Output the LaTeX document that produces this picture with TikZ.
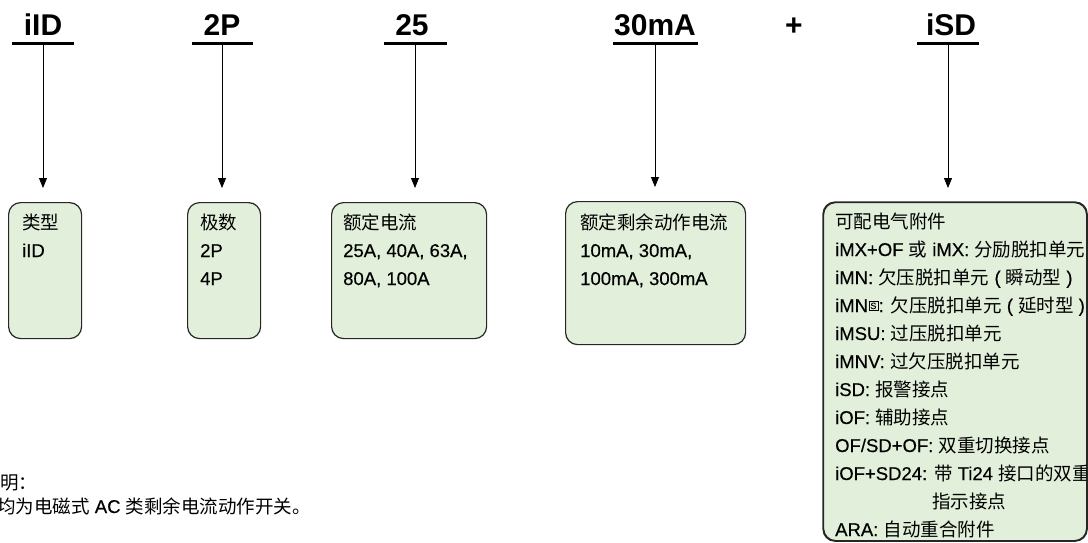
\documentclass[tikz,border=0pt]{standalone}
\usepackage{fontspec}
\setmainfont{Liberation Sans}[FakeBold=0.4]
\newfontfamily\titlef{Liberation Sans}
\newfontfamily\cjkf{Noto Sans CJK SC}
\newcommand{\zhs}[1]{{\cjkf #1}}
\newcommand{\sqS}{\kern0.5pt\raisebox{3pt}{\fboxsep=1.2pt\fboxrule=0.6pt\fbox{\fontsize{9}{9}\selectfont\vphantom{I}S}}\kern0.5pt}
\usetikzlibrary{arrows.meta}
\definecolor{boxfill}{HTML}{E2EFDA}
\begin{document}
\begin{tikzpicture}[x=1pt,y=-1pt,
  ttl/.style={font=\titlef\fontsize{30}{30}\selectfont\bfseries, anchor=base, inner sep=0pt},
  uline/.style={fill=black, inner sep=0pt, minimum height=3pt},
  arr/.style={-{Triangle[length=10pt,width=8pt]}, line width=0.8pt, shorten >=14pt},
  box/.style={draw=black!85, line width=1.2pt, fill=boxfill, rounded corners=12pt, anchor=north west, inner sep=0pt},
  txt/.style={font=\fontsize{18.5}{20}\selectfont, anchor=base west, inner sep=0pt}]
\useasboundingbox (0,0) rectangle (1088,542);

% titles
\node[ttl] (t1) at (43,35) {iID};
\node[ttl] (t2) at (222,35) {2P};
\node[ttl] (t3) at (412,35) {25};
\node[ttl] (t4) at (655,35) {30mA};
\node[ttl] (tp) at (794,35) {+};
\node[ttl] (t5) at (951,35) {iSD};

% underlines
\node[uline, minimum width=62pt] (u1) at (43,43) {};
\node[uline, minimum width=61pt] (u2) at (222,43) {};
\node[uline, minimum width=63pt] (u3) at (415,43) {};
\node[uline, minimum width=85pt] (u4) at (655,43) {};
\node[uline, minimum width=62pt] (u5) at (948,43) {};

% boxes
\node[box, minimum width=73pt, minimum height=136pt] (b1) at (8,202) {};
\node[box, minimum width=73pt, minimum height=136pt] (b2) at (187,202) {};
\node[box, minimum width=155pt, minimum height=136pt] (b3) at (331,202) {};
\node[box, minimum width=180pt, minimum height=143pt] (b4) at (565,201) {};
\node[box, minimum width=263pt, minimum height=338pt] (b5) at (823,202) {};

% arrows
\draw[arr] (u1.south) -- (u1.south |- b1.north);
\draw[arr] (u2.south) -- (u2.south |- b2.north);
\draw[arr] (u3.south) -- (u3.south |- b3.north);
\draw[arr] (u4.south) -- (u4.south |- b4.north);
\draw[arr] (u5.south) -- (u5.south |- b5.north);

% box 1
\node[txt] (b1a) at (22,229) {\zhs{类型}};
\node[txt] (b1b) at (22,257) {iID};
% box 2
\node[txt] (b2a) at (200,229) {\zhs{极数}};
\node[txt] (b2b) at (200,257) {2P};
\node[txt] (b2c) at (200,285) {4P};
% box 3
\node[txt] (b3a) at (343,229) {\zhs{额定电流}};
\node[txt] (b3b) at (343,257) {25A, 40A, 63A,};
\node[txt] (b3c) at (343,285) {80A, 100A};
% box 4
\node[txt] (b4a) at (580,229) {\zhs{额定剩余动作电流}};
\node[txt] (b4b) at (580,257) {10mA, 30mA,};
\node[txt] (b4c) at (580,285) {100mA, 300mA};

% box 5
\begin{scope}
\clip[rounded corners=12pt] (b5.north west) rectangle (b5.south east);
\node[txt] (c1) at (835,228) {\zhs{可配电气附件}};
\node[txt] (c2) at (835,256) {iMX+OF \zhs{或} iMX: \zhs{分励脱扣单元}};
\node[txt] (c3) at (835,284) {iMN: \zhs{欠压脱扣单元} ( \zhs{瞬动型} )};
\node[txt] (c4) at (835,312) {iMN\sqS: \zhs{欠压脱扣单元} ( \zhs{延时型} )};
\node[txt] (c5) at (835,340) {iMSU: \zhs{过压脱扣单元}};
\node[txt] (c6) at (835,368) {iMNV: \zhs{过欠压脱扣单元}};
\node[txt] (c7) at (835,396) {iSD: \zhs{报警接点}};
\node[txt] (c8) at (835,424) {iOF: \zhs{辅助接点}};
\node[txt] (c9) at (835,452) {OF/SD+OF: \zhs{双重切换接点}};
\node[txt] (c10) at (835,480) {iOF+SD24: \zhs{带} Ti24 \zhs{接口的双重}};
\node[txt] (c11) at (932,508) {\zhs{指示接点}};
\node[txt] (c12) at (835,536) {ARA: \zhs{自动重合附件}};
\end{scope}
\draw[draw=black!85, line width=1.2pt, rounded corners=12pt] (b5.north west) rectangle (b5.south east);

% note
\node[txt] (n1) at (0,489) {\zhs{明：}};
\node[txt] (n2) at (-3,513) {\zhs{均为电磁式} AC \zhs{类剩余电流动作开关。}};
\end{tikzpicture}
\end{document}
